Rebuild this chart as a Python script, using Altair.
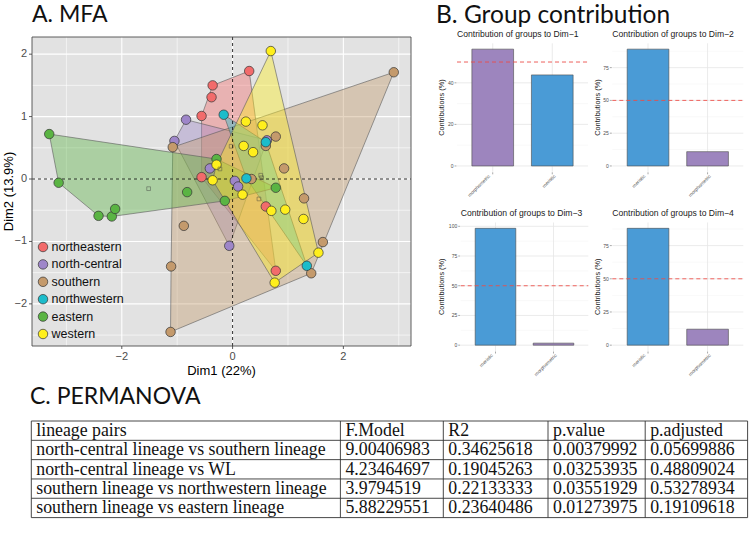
import altair as alt
import pandas as pd

# ======================= DATA =======================
groups = ["northeastern", "north-central", "southern", "northwestern", "eastern", "western"]
group_colors = ["#F26B6B", "#9E86C9", "#C49A6C", "#1CBCCB", "#5AB443", "#FFEF1C"]

northeastern_x = [0.30, -0.36, -0.38, -0.56, -0.56, 0.60, 0.78]
northeastern_y = [1.73, 1.50, 1.31, 1.01, 0.03, -0.44, -1.47]
northcentral_x = [-0.84, -1.05, -0.41, 0.04, 0.10, -0.06, 0.62]
northcentral_y = [0.95, 0.61, 0.17, -0.03, -0.12, -1.07, 0.62]
southern_x = [2.91, -1.08, 0.78, 0.60, 0.93, 0.34, 1.29, -0.88, -1.11, 1.63, 1.42, -1.12]
southern_y = [1.71, 0.51, 0.68, 0.53, 0.17, 0.00, -0.31, -0.75, -1.40, -1.01, -1.51, -2.45]
northwestern_x = [-0.16, 0.60, 0.25, 1.34]
northwestern_y = [1.03, 0.59, 0.01, -1.39]
eastern_x = [-3.31, -3.14, -2.42, -2.18, -2.12, -0.82, -0.29, -0.14, 0.78]
eastern_y = [0.72, -0.06, -0.59, -0.60, -0.48, -0.21, 0.32, -0.35, -0.14]
western_x = [0.69, 0.24, 0.54, 0.20, 0.37, -0.29, -0.36, 0.18, 0.70, 0.95, 1.28, 1.55, 0.76]
western_y = [2.05, 0.92, 0.86, 0.53, 0.43, 0.23, -0.02, -0.25, -0.51, -0.49, -0.64, -1.18, -1.66]

mfa_x_breaks = [-2, 0, 2]
mfa_x_labels = ["\u22122", "0", "2"]
mfa_x_minor = [-3, -1, 1, 3]
mfa_y_breaks = [-2, -1, 0, 1, 2]
mfa_y_labels = ["\u22122", "\u22121", "0", "1", "2"]
mfa_y_minor = [-2.5, -1.5, -0.5, 0.5, 1.5]
mfa_x_title = "Dim1 (22%)"
mfa_y_title = "Dim2 (13.9%)"

contrib_groups = ["morphometric", "meristic"]
contrib_colors = ["#9D85BE", "#4A9BD6"]
contrib_titles = ["Contribution of groups to Dim\u22121", "Contribution of groups to Dim\u22122",
                  "Contribution of groups to Dim\u22123", "Contribution of groups to Dim\u22124"]
dim1_contrib = [56.2, 43.8]
dim2_contrib = [10.9, 89.1]
dim3_contrib = [1.7, 98.3]
dim4_contrib = [12.0, 88.0]
dim1_breaks = [0, 20, 40]
dim1_minor = [10, 30, 50]
dim2_breaks = [0, 25, 50, 75]
dim2_minor = [12.5, 37.5, 62.5, 87.5]
dim3_breaks = [0, 25, 50, 75, 100]
dim3_minor = [12.5, 37.5, 62.5, 87.5]
dim4_breaks = [0, 25, 50, 75]
dim4_minor = [12.5, 37.5, 62.5, 87.5]
contrib_ref = 50
contrib_y_title = "Contributions (%)"

table_header = ["lineage pairs", "F.Model", "R2", "p.value", "p.adjusted"]
table_pairs = ["north-central lineage vs southern lineage", "north-central lineage vs WL",
               "southern lineage vs northwestern lineage", "southern lineage vs eastern lineage"]
table_fmodel = ["9.00406983", "4.23464697", "3.9794519", "5.88229551"]
table_r2 = ["0.34625618", "0.19045263", "0.22133333", "0.23640486"]
table_pvalue = ["0.00379992", "0.03253935", "0.03551929", "0.01273975"]
table_padj = ["0.05699886", "0.48809024", "0.53278934", "0.19109618"]

panel_titles = ["A. MFA", "B. Group contribution", "C. PERMANOVA"]

# ======================= LAYOUT =======================
W, H = 751, 533
SANS = "Liberation Sans"
SERIF = "Liberation Serif"
A_XR = [32, 411]
A_YR = [346, 37]
B_PANELS = [  # x range, y range (bottom, top)
    ([457.0, 588.0], [171.8, 43.3]),
    ([612.3, 743.3], [171.8, 43.3]),
    ([460.7, 588.3], [351.0, 222.5]),
    ([612.3, 743.3], [351.0, 222.5]),
]
B_YTITLE_X = [441.7, 598.3, 441.7, 598.3]
T_COLS = [31.3, 340.4, 443.3, 548.0, 645.2, 747.6]
T_ROWS = [421.0, 517.6]
TITLE_STYLE = [("Lato", 23, 32, 21.5), ("Lato", 24.5, 436, 23), ("Lato", 23, 30, 403.5)]

layers = []


def X(f, s):
    return alt.X(f, scale=s, axis=None)


def Y(f, s):
    return alt.Y(f, scale=s, axis=None)


def expand(lo, hi, f=0.05):
    d = (hi - lo) * f
    return [lo - d, hi + d]


def convex_hull(xs, ys):
    pts = sorted(set(zip(xs, ys)))

    def cross(o, a, b):
        return (a[0] - o[0]) * (b[1] - o[1]) - (a[1] - o[1]) * (b[0] - o[0])

    lower, upper = [], []
    for p in pts:
        while len(lower) >= 2 and cross(lower[-2], lower[-1], p) <= 0:
            lower.pop()
        lower.append(p)
    for p in reversed(pts):
        while len(upper) >= 2 and cross(upper[-2], upper[-1], p) <= 0:
            upper.pop()
        upper.append(p)
    return lower[:-1] + upper[:-1]


# ======================= PANEL A =======================
gx = [northeastern_x, northcentral_x, southern_x, northwestern_x, eastern_x, western_x]
gy = [northeastern_y, northcentral_y, southern_y, northwestern_y, eastern_y, western_y]
rows = []
for g, xs, ys in zip(groups, gx, gy):
    for a, b in zip(xs, ys):
        rows.append({"group": g, "x": a, "y": b})
pts = pd.DataFrame(rows)
xdom = expand(pts.x.min(), pts.x.max())
ydom = expand(pts.y.min(), pts.y.max())
sx = alt.Scale(domain=xdom, range=A_XR, nice=False, zero=False)
sy = alt.Scale(domain=ydom, range=A_YR, nice=False, zero=False)
box = pd.DataFrame({"x0": [xdom[0]], "x1": [xdom[1]], "y0": [ydom[0]], "y1": [ydom[1]]})

layers.append(alt.Chart(box).mark_rect(fill="#e2e2e2").encode(
    x=X("x0:Q", sx), x2="x1:Q", y=Y("y0:Q", sy), y2="y1:Q"))


def vgrid(vals, w):
    df = pd.DataFrame({"v": vals, "y0": ydom[0], "y1": ydom[1]})
    return alt.Chart(df).mark_rule(color="white", strokeWidth=w).encode(
        x=X("v:Q", sx), y=Y("y0:Q", sy), y2="y1:Q")


def hgrid(vals, w):
    df = pd.DataFrame({"v": vals, "x0": xdom[0], "x1": xdom[1]})
    return alt.Chart(df).mark_rule(color="white", strokeWidth=w).encode(
        y=Y("v:Q", sy), x=X("x0:Q", sx), x2="x1:Q")


layers += [vgrid(mfa_x_minor, 0.6), hgrid(mfa_y_minor, 0.6), vgrid(mfa_x_breaks, 1.1), hgrid(mfa_y_breaks, 1.1)]

for g, c, xs, ys in zip(groups, group_colors, gx, gy):
    h = convex_hull(xs, ys)
    hdf = pd.DataFrame({"x": [p[0] for p in h], "y": [p[1] for p in h], "i": list(range(len(h)))})
    layers.append(alt.Chart(hdf).mark_line(
        interpolate="linear-closed", fill=c, fillOpacity=0.4, stroke="#5a5a5a", strokeWidth=0.6
    ).encode(x=X("x:Q", sx), y=Y("y:Q", sy), order="i:Q"))

dash_v = pd.DataFrame({"v": [0], "y0": ydom[0], "y1": ydom[1]})
dash_h = pd.DataFrame({"v": [0], "x0": xdom[0], "x1": xdom[1]})
layers.append(alt.Chart(dash_v).mark_rule(color="black", strokeDash=[3, 3], strokeWidth=0.8).encode(
    x=X("v:Q", sx), y=Y("y0:Q", sy), y2="y1:Q"))
layers.append(alt.Chart(dash_h).mark_rule(color="black", strokeDash=[3, 3], strokeWidth=0.8).encode(
    y=Y("v:Q", sy), x=X("x0:Q", sx), x2="x1:Q"))

gscale = alt.Scale(domain=groups, range=group_colors)
layers.append(alt.Chart(pts).mark_circle(size=90, stroke="#333333", strokeWidth=0.7, opacity=1).encode(
    x=X("x:Q", sx), y=Y("y:Q", sy), fill=alt.Fill("group:N", scale=gscale, legend=None)))

layers.append(alt.Chart(pts).transform_aggregate(
    mx="mean(x)", my="mean(y)", groupby=["group"]
).mark_square(filled=False, size=14, color="#3a3a3a", strokeWidth=0.6).encode(
    x=X("mx:Q", sx), y=Y("my:Q", sy)))

layers.append(alt.Chart(box).mark_rect(fillOpacity=0, stroke="#4d4d4d", strokeWidth=0.9).encode(
    x=X("x0:Q", sx), x2="x1:Q", y=Y("y0:Q", sy), y2="y1:Q"))

# axes A
ylab = pd.DataFrame({"v": mfa_y_breaks, "lab": mfa_y_labels})
xlab = pd.DataFrame({"v": mfa_x_breaks, "lab": mfa_x_labels})
layers.append(alt.Chart(ylab).mark_text(align="right", baseline="middle", fontSize=11, font=SANS,
                                        color="#4d4d4d").encode(
    y=Y("v:Q", sy), x=alt.value(27), text="lab:N"))
layers.append(alt.Chart(ylab).mark_rule(color="#333333", strokeWidth=0.8).encode(
    y=Y("v:Q", sy), x=alt.value(29), x2=alt.value(32)))
layers.append(alt.Chart(xlab).mark_text(align="center", baseline="top", fontSize=11, font=SANS,
                                        color="#4d4d4d").encode(
    x=X("v:Q", sx), y=alt.value(350.5), text="lab:N"))
layers.append(alt.Chart(xlab).mark_rule(color="#333333", strokeWidth=0.8).encode(
    x=X("v:Q", sx), y=alt.value(346), y2=alt.value(349)))
layers.append(alt.Chart(pd.DataFrame({"t": [mfa_x_title]})).mark_text(
    align="center", baseline="middle", fontSize=13, font=SANS, color="black").encode(
    x=alt.value((A_XR[0] + A_XR[1]) / 2), y=alt.value(371), text="t:N"))
layers.append(alt.Chart(pd.DataFrame({"t": [mfa_y_title]})).mark_text(
    align="center", baseline="middle", fontSize=13, font=SANS, color="black", angle=270).encode(
    x=alt.value(9), y=alt.value((A_YR[0] + A_YR[1]) / 2), text="t:N"))

# legend A
leg = pd.DataFrame({"group": groups, "k": list(range(len(groups)))})
ls = alt.Scale(domain=[0, len(groups) - 1], range=[247, 334], nice=False, zero=False)
layers.append(alt.Chart(leg).mark_circle(size=90, stroke="#333333", strokeWidth=0.7, opacity=1).encode(
    y=Y("k:Q", ls), x=alt.value(43), fill=alt.Fill("group:N", scale=gscale, legend=None)))
layers.append(alt.Chart(leg).mark_text(align="left", baseline="middle", fontSize=12.5, font=SANS,
                                       color="#111111").encode(
    y=Y("k:Q", ls), x=alt.value(51.5), text="group:N"))

# ======================= PANEL B =======================
dim_values = [dim1_contrib, dim2_contrib, dim3_contrib, dim4_contrib]
dim_breaks = [dim1_breaks, dim2_breaks, dim3_breaks, dim4_breaks]
dim_minor = [dim1_minor, dim2_minor, dim3_minor, dim4_minor]
cscale = alt.Scale(domain=contrib_groups, range=contrib_colors)

for k in range(4):
    (xr, yr) = B_PANELS[k]
    vals = dim_values[k]
    df = pd.DataFrame({"grp": contrib_groups, "val": vals}).sort_values("val", ascending=False)
    order = list(df.grp)
    vmax = max(vals)
    bx = alt.Scale(domain=order, range=xr, paddingInner=0.3, paddingOuter=0.25)
    by = alt.Scale(domain=expand(0, vmax), range=yr, nice=False, zero=False)
    left, right, bottom, top = xr[0], xr[1], yr[0], yr[1]

    mn = pd.DataFrame({"v": dim_minor[k]})
    mj = pd.DataFrame({"v": dim_breaks[k]})
    layers.append(alt.Chart(mn).mark_rule(color="#f2f2f2", strokeWidth=0.5).encode(
        y=Y("v:Q", by), x=alt.value(left), x2=alt.value(right)))
    layers.append(alt.Chart(mj).mark_rule(color="#e6e6e6", strokeWidth=0.8).encode(
        y=Y("v:Q", by), x=alt.value(left), x2=alt.value(right)))
    layers.append(alt.Chart(df).mark_rule(color="#e6e6e6", strokeWidth=0.8).encode(
        x=X("grp:N", bx), y=alt.value(top), y2=alt.value(bottom)))
    layers.append(alt.Chart(df).mark_bar(stroke="#4a4a4a", strokeWidth=0.6).encode(
        x=X("grp:N", bx), y=Y("val:Q", by), y2=alt.datum(0),
        fill=alt.Fill("grp:N", scale=cscale, legend=None)))
    layers.append(alt.Chart(pd.DataFrame({"v": [contrib_ref]})).mark_rule(
        color="#f04a44", strokeDash=[4, 3], strokeWidth=1, opacity=0.85).encode(
        y=Y("v:Q", by), x=alt.value(left), x2=alt.value(right)))
    layers.append(alt.Chart(mj).mark_text(align="right", baseline="middle", fontSize=5, font=SANS,
                                          color="#4d4d4d").encode(
        y=Y("v:Q", by), x=alt.value(left - 3.5), text="v:Q"))
    layers.append(alt.Chart(mj).mark_rule(color="#555555", strokeWidth=0.5).encode(
        y=Y("v:Q", by), x=alt.value(left - 2.5), x2=alt.value(left - 0.5)))
    layers.append(alt.Chart(df).mark_rule(color="#555555", strokeWidth=0.5).encode(
        x=X("grp:N", bx), y=alt.value(bottom + 0.5), y2=alt.value(bottom + 2.5)))
    layers.append(alt.Chart(df).mark_text(align="right", baseline="middle", fontSize=4.8, font=SANS,
                                          angle=315, color="#4d4d4d").encode(
        x=X("grp:N", bx), y=alt.value(bottom + 4), text="grp:N"))
    layers.append(alt.Chart(pd.DataFrame({"t": [contrib_titles[k]]})).mark_text(
        align="left", baseline="alphabetic", fontSize=8.6, font=SANS, color="#1a1a1a").encode(
        x=alt.value(left), y=alt.value(top - 6.3), text="t:N"))
    layers.append(alt.Chart(pd.DataFrame({"t": [contrib_y_title]})).mark_text(
        align="center", baseline="middle", fontSize=7.3, font=SANS, color="#1a1a1a", angle=270).encode(
        x=alt.value(B_YTITLE_X[k]), y=alt.value((top + bottom) / 2), text="t:N"))

# ======================= PANEL C (table) =======================
cols = [table_pairs, table_fmodel, table_r2, table_pvalue, table_padj]
cells = []
for c, h in enumerate(table_header):
    cells.append({"col": c, "row": 0.5, "txt": h})
for c, colvals in enumerate(cols):
    for r, v in enumerate(colvals):
        cells.append({"col": c, "row": r + 1.5, "txt": v})
cells = pd.DataFrame(cells)
n_rows = len(table_pairs) + 1
tx = alt.Scale(domain=list(range(len(T_COLS))), range=T_COLS, nice=False, zero=False)
ty = alt.Scale(domain=[0, n_rows], range=T_ROWS, nice=False, zero=False)
hl = pd.DataFrame({"r": list(range(n_rows + 1)), "c0": 0, "c1": len(T_COLS) - 1})
vl = pd.DataFrame({"c": list(range(len(T_COLS))), "r0": 0, "r1": n_rows})
layers.append(alt.Chart(hl).mark_rule(color="#333333", strokeWidth=0.9).encode(
    y=Y("r:Q", ty), x=X("c0:Q", tx), x2="c1:Q"))
layers.append(alt.Chart(vl).mark_rule(color="#333333", strokeWidth=0.9).encode(
    x=X("c:Q", tx), y=Y("r0:Q", ty), y2="r1:Q"))
layers.append(alt.Chart(cells).mark_text(align="left", baseline="middle", fontSize=17.8, font=SERIF,
                                         color="#111111", dx=5, dy=0.5).encode(
    x=X("col:Q", tx), y=Y("row:Q", ty), text="txt:N"))

# ======================= PANEL TITLES =======================
for t, (fnt, fs, px, py) in zip(panel_titles, TITLE_STYLE):
    layers.append(alt.Chart(pd.DataFrame({"t": [t]})).mark_text(
        align="left", baseline="alphabetic", fontSize=fs, font=fnt, color="#111111").encode(
        x=alt.value(px), y=alt.value(py), text="t:N"))

chart = alt.layer(*layers).resolve_scale(
    x="independent", y="independent", fill="independent", color="independent"
).properties(
    width=W, height=H, autosize=alt.AutoSizeParams(type="none"), padding=0, background="white"
).configure_view(stroke=None)

chart.save("out.html", embed_options={"renderer": "svg", "actions": False})
